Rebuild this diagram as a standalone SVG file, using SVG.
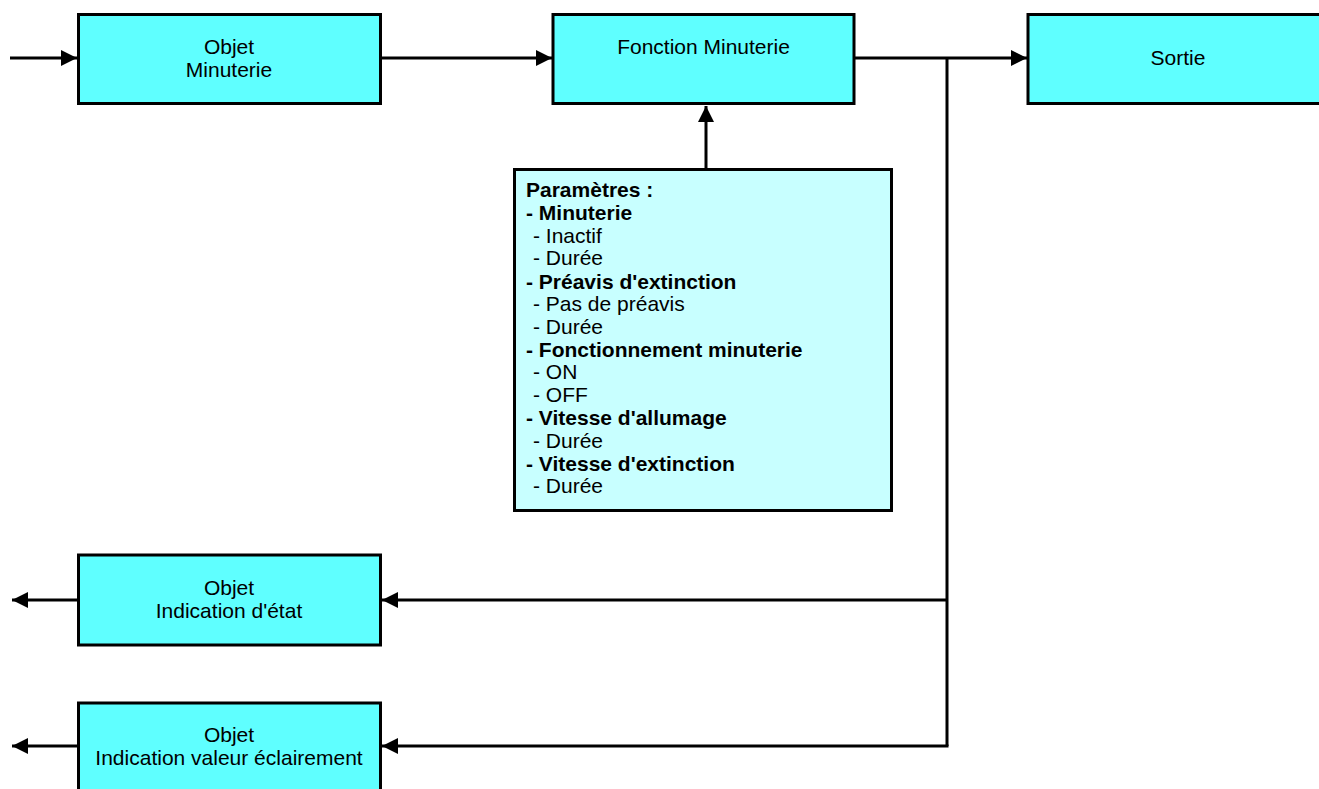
<svg xmlns="http://www.w3.org/2000/svg" width="1319" height="789" viewBox="0 0 1319 789">
<style>
.box{fill:#5FFFFF;stroke:#000;stroke-width:3}
.pbox{fill:#C8FFFF;stroke:#000;stroke-width:3}
.t{font-family:"Liberation Sans",Arial,sans-serif;font-size:21px;fill:#000}
.c{text-anchor:middle}
.b{font-weight:bold}
.ln{fill:none;stroke:#000;stroke-width:3}
</style>
<defs>
<marker id="ah" markerUnits="userSpaceOnUse" markerWidth="16" markerHeight="16" refX="16" refY="8" orient="auto" viewBox="0 0 16 16">
<path d="M0,0 L16,8 L0,16 z" fill="#000"/>
</marker>
</defs>
<g id="connectors">
<path class="ln" d="M10,58 H77" marker-end="url(#ah)"/>
<path class="ln" d="M381,58 H552" marker-end="url(#ah)"/>
<path class="ln" d="M855,58 H1027" marker-end="url(#ah)"/>
<path class="ln" d="M947,58 V746"/>
<path class="ln" d="M947,600 H382" marker-end="url(#ah)"/>
<path class="ln" d="M948.5,746 H382" marker-end="url(#ah)"/>
<path class="ln" d="M706,169 V106" marker-end="url(#ah)"/>
<path class="ln" d="M77,600 H12" marker-end="url(#ah)"/>
<path class="ln" d="M77,746 H12" marker-end="url(#ah)"/>
</g>
<g id="objet-minuterie">
<rect class="box" x="78.5" y="14.5" width="302" height="89"/>
<text class="t c" x="229" y="54">Objet</text>
<text class="t c" x="229" y="77">Minuterie</text>
</g>
<g id="fonction-minuterie">
<rect class="box" x="553" y="14.5" width="301" height="89"/>
<text class="t c" x="703.5" y="54">Fonction Minuterie</text>
</g>
<g id="sortie">
<rect class="box" x="1028" y="14.5" width="320" height="89"/>
<text class="t c" x="1178" y="65">Sortie</text>
</g>
<g id="parametres">
<rect class="pbox" x="514.5" y="169.5" width="377" height="341"/>
<text class="t b" x="526" y="197">Paramètres :</text>
<text class="t b" x="526" y="220">- Minuterie</text>
<text class="t" x="533" y="243">- Inactif</text>
<text class="t" x="533" y="265">- Durée</text>
<text class="t b" x="526" y="288.5">- Préavis d'extinction</text>
<text class="t" x="533" y="311">- Pas de préavis</text>
<text class="t" x="533" y="334">- Durée</text>
<text class="t b" x="526" y="357">- Fonctionnement minuterie</text>
<text class="t" x="533" y="379">- ON</text>
<text class="t" x="533" y="402">- OFF</text>
<text class="t b" x="526" y="425">- Vitesse d'allumage</text>
<text class="t" x="533" y="448">- Durée</text>
<text class="t b" x="526" y="470.5">- Vitesse d'extinction</text>
<text class="t" x="533" y="493">- Durée</text>
</g>
<g id="objet-indication-etat">
<rect class="box" x="78.5" y="555" width="302" height="90"/>
<text class="t c" x="229" y="594.5">Objet</text>
<text class="t c" x="229" y="618">Indication d'état</text>
</g>
<g id="objet-indication-eclairement">
<rect class="box" x="78.5" y="703" width="302" height="100"/>
<text class="t c" x="229" y="741.5">Objet</text>
<text class="t c" x="229" y="765">Indication valeur éclairement</text>
</g>
</svg>
